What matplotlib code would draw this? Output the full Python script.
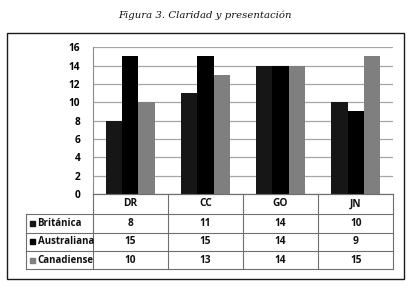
import matplotlib
matplotlib.use("Agg")
import matplotlib.pyplot as plt
from matplotlib.patches import Rectangle

categories = ['DR', 'CC', 'GO', 'JN']
series_names = ['Británica', 'Australiana', 'Canadiense']
britanica = [8, 11, 14, 10]
australiana = [15, 15, 14, 9]
canadiense = [10, 13, 14, 15]
y_ticks = [0, 2, 4, 6, 8, 10, 12, 14, 16]
title = 'Figura 3. Claridad y presentación'

colors = ['#161616', '#000000', '#7f7f7f']
series = [britanica, australiana, canadiense]

W, H = 409, 289
fig = plt.figure(figsize=(W / 100, H / 100), dpi=100)
fig.patch.set_facecolor('white')


def fx(px):
    return px / W


def fy(py):
    return 1 - py / H


# outer frame
fig.add_artist(Rectangle((fx(6.7), fy(279.3)), fx(404.3) - fx(6.7), fy(33.3) - fy(279.3),
                         transform=fig.transFigure, fill=False, edgecolor='#1a1a1a', lw=1.0))

fig.text(fx(205), fy(15), title, ha='center', va='center', fontsize=7.3,
         family='DejaVu Serif', style='italic', color='#111111')

# bar axes
left, right, top, bottom = 92.7, 393.3, 47.3, 194.0
ax = fig.add_axes([fx(left), fy(bottom), fx(right) - fx(left), fy(top) - fy(bottom)])
ax.set_xlim(-0.5, len(categories) - 0.5)
ax.set_ylim(0, 16)
width = 0.218
for i, (vals, c) in enumerate(zip(series, colors)):
    xs = [k + (i - 1) * width for k in range(len(categories))]
    ax.bar(xs, vals, width=width, color=c, zorder=3)
ax.set_yticks(y_ticks)
ax.set_yticklabels([str(t) for t in y_ticks], fontsize=7.3, fontweight='bold', family='Open Sans')
ax.tick_params(axis='y', length=0, pad=9)
ax.set_xticks([])
ax.grid(axis='y', color='#a6a6a6', lw=0.9, zorder=0)
for s in ['top', 'right']:
    ax.spines[s].set_visible(False)
ax.spines['left'].set_color('#8c8c8c')
ax.spines['bottom'].set_color('#8c8c8c')

# data table under the chart
tab_left = 25.7
rows_y = [194.0, 214.0, 232.7, 251.0, 269.3]
col_w = (right - left) / len(categories)
line_c = '#6e6e6e'
# horizontal lines
fig.add_artist(plt.Line2D([fx(left), fx(right)], [fy(rows_y[0])] * 2, transform=fig.transFigure,
                          color=line_c, lw=0.8))
for yy in rows_y[1:]:
    fig.add_artist(plt.Line2D([fx(tab_left), fx(right)], [fy(yy)] * 2, transform=fig.transFigure,
                              color=line_c, lw=0.8))
# vertical lines
fig.add_artist(plt.Line2D([fx(tab_left)] * 2, [fy(rows_y[1]), fy(rows_y[-1])],
                          transform=fig.transFigure, color=line_c, lw=0.8))
for k in range(len(categories) + 1):
    xx = left + k * col_w
    fig.add_artist(plt.Line2D([fx(xx)] * 2, [fy(rows_y[0]), fy(rows_y[-1])],
                              transform=fig.transFigure, color=line_c, lw=0.8))

txt = dict(fontsize=7.3, fontweight='bold', family='Open Sans', color='#111111')
for k, cat in enumerate(categories):
    cx = left + (k + 0.5) * col_w
    fig.text(fx(cx), fy((rows_y[0] + rows_y[1]) / 2), cat, ha='center', va='center', **txt)
for r, (name, vals, c) in enumerate(zip(series_names, series, colors)):
    cy = (rows_y[r + 1] + rows_y[r + 2]) / 2
    fig.add_artist(Rectangle((fx(30), fy(cy + 2.5)), fx(5), fy(0) - fy(5),
                             transform=fig.transFigure, color=c))
    fig.text(fx(37.5), fy(cy), name, ha='left', va='center', fontsize=7,
             fontweight='bold', family='Open Sans', color='#111111')
    for k, v in enumerate(vals):
        cx = left + (k + 0.5) * col_w
        fig.text(fx(cx), fy(cy), str(v), ha='center', va='center', **txt)

fig.savefig('out.png', dpi=100, facecolor='white')
